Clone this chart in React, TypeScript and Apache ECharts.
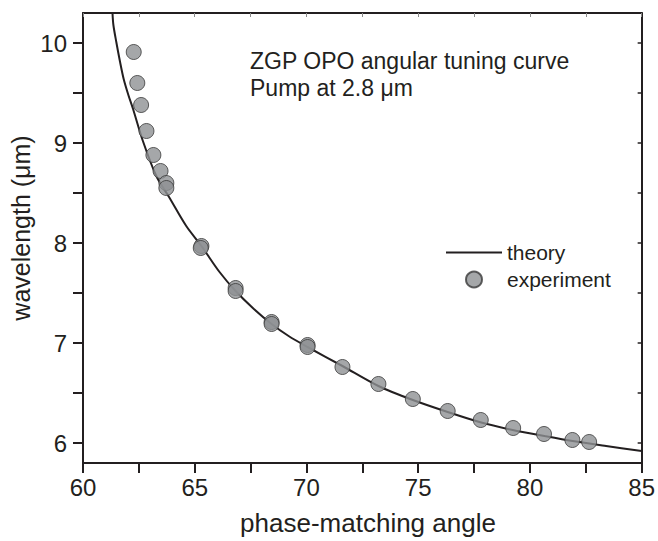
import React, { useEffect, useRef } from "react";
import * as echarts from "echarts";

// theory curve (phase-matching angle, wavelength µm)
const theoryAngle = [61.32, 61.36, 61.49, 61.65, 61.82, 62.03, 62.24, 62.68, 63.28, 63.85, 64.62, 65.30, 66.11, 66.83, 67.6, 68.44, 69.2, 70.05, 71.61, 73.22, 74.76, 76.32, 77.74, 79.23, 80.65, 81.91, 83.41, 85.0];
const theoryWave = [10.30, 10.18, 10.01, 9.82, 9.64, 9.48, 9.34, 9.02, 8.67, 8.46, 8.17, 7.97, 7.71, 7.52, 7.35, 7.19, 7.07, 6.96, 6.77, 6.57, 6.43, 6.31, 6.21, 6.13, 6.07, 6.02, 5.97, 5.92];

// experimental points
const expAngle = [62.27, 62.43, 62.60, 62.84, 63.15, 63.47, 63.73, 63.73, 65.30, 65.27, 66.83, 66.83, 68.44, 68.44, 70.05, 70.05, 71.61, 73.22, 74.76, 76.32, 77.80, 79.25, 80.63, 81.90, 82.65];
const expWave = [9.91, 9.60, 9.38, 9.12, 8.88, 8.72, 8.60, 8.55, 7.97, 7.95, 7.55, 7.52, 7.21, 7.19, 6.98, 6.96, 6.76, 6.59, 6.44, 6.32, 6.23, 6.15, 6.09, 6.03, 6.01];

// ticks
const xTickValues = [60, 62.5, 65, 67.5, 70, 72.5, 75, 77.5, 80, 82.5, 85];
const xLabelValues = [60, 65, 70, 75, 80, 85];
const yTickValues = [6, 6.5, 7, 7.5, 8, 8.5, 9, 9.5, 10];
const yLabelValues = [6, 7, 8, 9, 10];

const FONT = "'Liberation Sans', Arial, Helvetica, sans-serif";
const INK = "#231f20";

export default function App() {
  const ref = useRef<HTMLDivElement>(null);
  useEffect(() => {
    document.body.style.margin = "0";
    if (!ref.current) return;
    const chart = echarts.init(ref.current, undefined, { renderer: "svg" });
    const axisLine = { show: true, onZero: false, lineStyle: { color: INK, width: 2 } };
    chart.setOption({
      animation: false,
      backgroundColor: "#ffffff",
      grid: { left: 83, right: 16, top: 13, bottom: 78, containLabel: false },
      xAxis: [
        {
          type: "value", min: 60, max: 85, position: "bottom",
          axisLine,
          axisTick: { show: true, inside: false, length: 10, customValues: xTickValues, lineStyle: { color: INK, width: 2 } },
          axisLabel: { show: true, customValues: xLabelValues, margin: 12, fontSize: 24, fontFamily: FONT, color: INK },
          splitLine: { show: false },
        },
        {
          type: "value", min: 60, max: 85, position: "top",
          axisLine,
          axisTick: { show: true, inside: true, length: 4, customValues: xTickValues, lineStyle: { color: "#888", width: 1 } },
          axisLabel: { show: false },
          splitLine: { show: false },
        },
      ],
      yAxis: [
        {
          type: "value", min: 5.8, max: 10.3, position: "left",
          axisLine,
          axisTick: { show: true, inside: false, length: 10, customValues: yTickValues, lineStyle: { color: INK, width: 2 } },
          axisLabel: { show: true, customValues: yLabelValues, margin: 16, fontSize: 24, fontFamily: FONT, color: INK },
          splitLine: { show: false },
        },
        {
          type: "value", min: 5.8, max: 10.3, position: "right",
          axisLine,
          axisTick: { show: true, inside: true, length: 4, customValues: yTickValues, lineStyle: { color: INK, width: 1.5 } },
          axisLabel: { show: false },
          splitLine: { show: false },
        },
      ],
      legend: {
        orient: "vertical",
        left: 441,
        top: 237,
        padding: 5,
        itemWidth: 56,
        itemHeight: 16,
        itemGap: 6,
        textStyle: { fontSize: 21, fontFamily: FONT, color: INK },
        data: [
          { name: "theory", icon: "path://M0 0 H56 V2 H0 Z" },
          { name: "experiment", icon: "circle" },
        ],
      },
      series: [
        {
          name: "theory",
          type: "line",
          data: theoryAngle.map((x, i) => [x, theoryWave[i]]),
          symbol: "none",
          smooth: 0.3,
          lineStyle: { color: INK, width: 2 },
          itemStyle: { color: INK },
          z: 2,
        },
        {
          name: "experiment",
          type: "scatter",
          data: expAngle.map((x, i) => [x, expWave[i]]),
          symbol: "circle",
          symbolSize: 15,
          itemStyle: { color: "#8f9194", borderColor: "#3a3a3a", borderWidth: 1 },
          z: 3,
        },
      ],
      graphic: [
        {
          type: "text", left: 250, top: 49,
          style: { text: "ZGP OPO angular tuning curve", fontSize: 23, fontFamily: FONT, fill: INK },
        },
        {
          type: "text", left: 250, top: 76,
          style: { text: "Pump at 2.8 μm", fontSize: 23, fontFamily: FONT, fill: INK },
        },
        {
          type: "text", x: 368, y: 523,
          style: { text: "phase-matching angle", fontSize: 26, fontFamily: FONT, fill: INK, align: "center", verticalAlign: "middle" },
        },
        {
          type: "text", x: 21, y: 228, rotation: Math.PI / 2,
          style: { text: "wavelength (μm)", fontSize: 25, fontFamily: FONT, fill: INK, align: "center", verticalAlign: "middle" },
        },
      ],
    });
    return () => chart.dispose();
  }, []);
  return <div ref={ref} style={{ width: 658, height: 541 }} />;
}
